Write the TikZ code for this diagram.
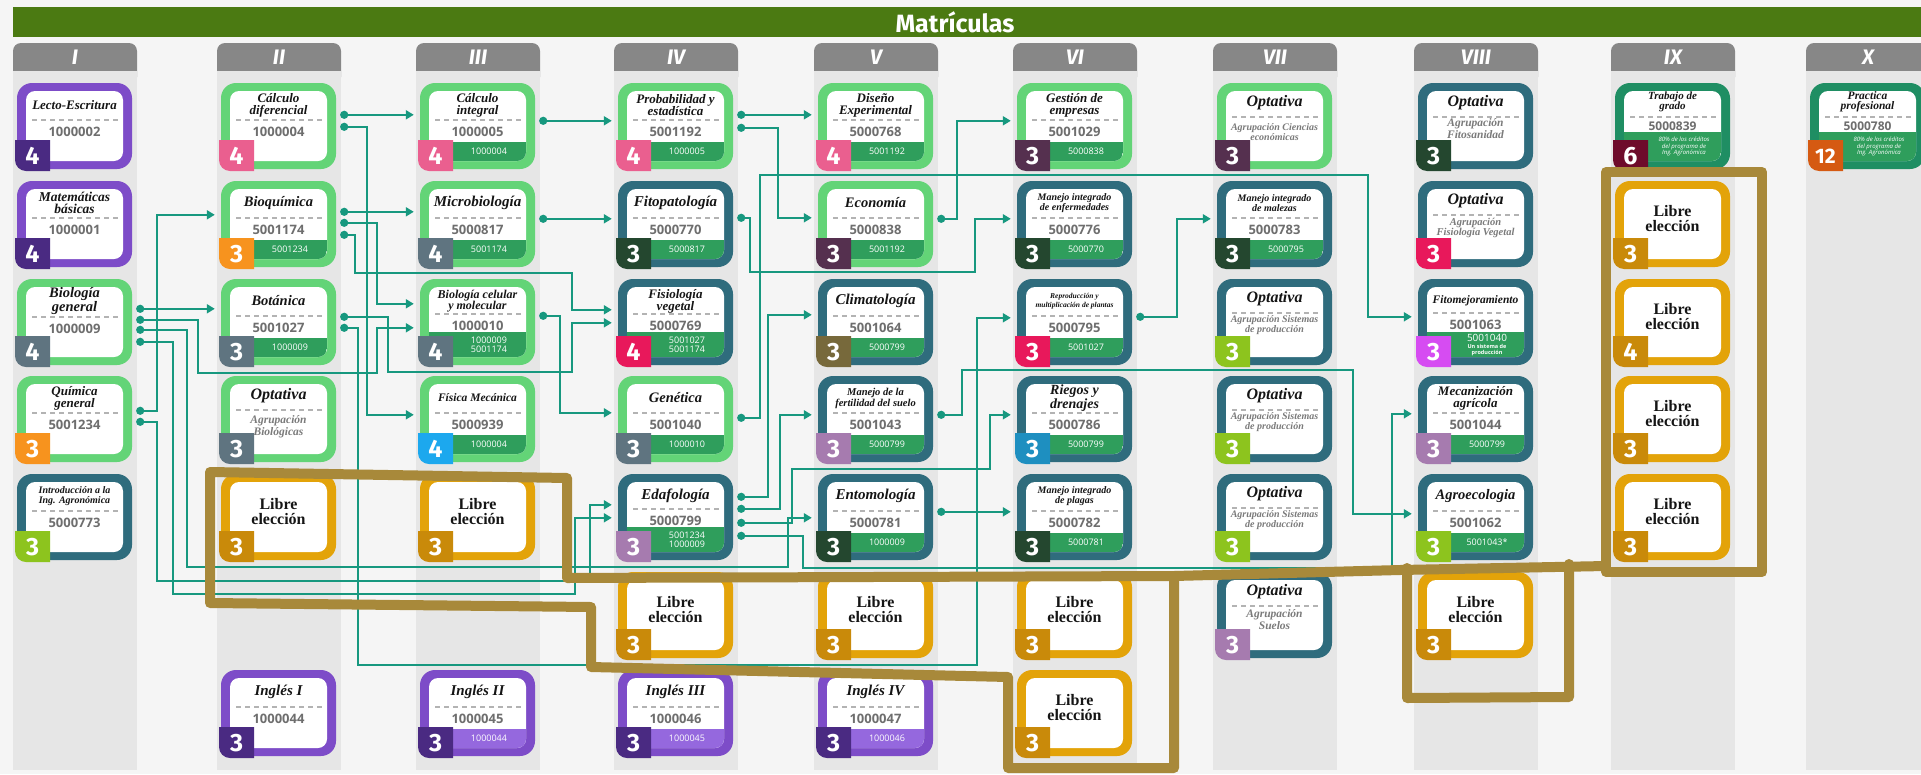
\documentclass[tikz,border=0pt]{standalone}
\usepackage{fontspec}
\setmainfont{Liberation Serif}
\newfontfamily\ttlfont{Liberation Serif}
\newfontfamily\numfont{Fira Sans}
\newfontfamily\codefont{Open Sans}
\usetikzlibrary{arrows.meta}

\definecolor{pagebg}{HTML}{F5F5F5}
\definecolor{colgray}{HTML}{E6E6E6}
\definecolor{hdrgray}{HTML}{878787}
\definecolor{banner}{HTML}{4B7A12}
\definecolor{ink}{HTML}{151515}
\definecolor{codegray}{HTML}{6E6E6E}
\definecolor{dashgray}{HTML}{B3B3B3}
\definecolor{agrgray}{HTML}{7A7A7A}
\definecolor{purpB}{HTML}{7D4CC8}
\definecolor{purpD}{HTML}{4A2A82}
\definecolor{purpP}{HTML}{9568DE}
\definecolor{lgrnB}{HTML}{63D477}
\definecolor{tealB}{HTML}{2F6C7D}
\definecolor{goldB}{HTML}{E3A309}
\definecolor{goldD}{HTML}{C98A0A}
\definecolor{dkgrnB}{HTML}{1F8E63}
\definecolor{prqG}{HTML}{2F9E5C}
\definecolor{slate}{HTML}{5F7480}
\definecolor{orng}{HTML}{F7931E}
\definecolor{lime}{HTML}{8DC41E}
\definecolor{pink}{HTML}{EA5F8F}
\definecolor{sky}{HTML}{1CA8EE}
\definecolor{dgrn}{HTML}{24472F}
\definecolor{rose}{HTML}{E8185B}
\definecolor{mauve}{HTML}{A67BAF}
\definecolor{plum}{HTML}{55304F}
\definecolor{olive}{HTML}{77693B}
\definecolor{rbl}{HTML}{1E8FC0}
\definecolor{magen}{HTML}{D64CF2}
\definecolor{maroonB}{HTML}{6E0B2B}
\definecolor{burnt}{HTML}{D55A12}
\definecolor{link}{HTML}{17987F}
\definecolor{ochre}{HTML}{A8893A}

\newcommand\fs[2]{\fontsize{#1}{#2}\selectfont}

\tikzset{
  cardouter/.style={rectangle, rounded corners=15pt, minimum width=115pt, minimum height=86pt, inner sep=0pt},
  ttl/.style={text=ink, align=center, inner sep=0pt},
  codetxt/.style={font=\codefont\bfseries\fs{13}{14}, text=codegray, inner sep=0pt},
  prqtxt/.style={font=\codefont\fs{9}{9}, text=white, align=center, inner sep=0pt},
  bdgtxt/.style={text=white, inner sep=0pt},
  agr/.style={text=agrgray, align=center, inner sep=0pt},
  libtxt/.style={font=\ttlfont\bfseries\fs{16}{15}, text=ink, align=center, inner sep=0pt},
  dsh/.style={draw=dashgray, line width=1.6pt, dash pattern=on 5pt off 4pt},
  conn/.style={draw=link, line width=2.5pt, {Circle[length=8pt]}-{Triangle[length=8pt,width=9pt]}},
  outline/.style={draw=ochre, line width=10pt, line join=round, line cap=round},
  romtxt/.style={font=\numfont\bfseries\itshape\fs{21}{21}, text=white, inner sep=0pt},
}

% card frame: name, left, top, border colour, badge colour, credits
\newcommand\mkcard[6]{%
  \node[cardouter, fill=#4] (#1) at (#2+57.5,#3+43) {};
  \fill[white, rounded corners=9pt] (#2+9,#3+8) rectangle (#2+106,#3+78);
  \gdef\cn{#1}\gdef\cx{#2}\gdef\cy{#3}\gdef\bc{#5}\gdef\bn{#6}}
% title: vertical offset, size, line skip, text
\newcommand\mkttl[4]{\node[ttl, font=\ttlfont\bfseries\itshape\fs{#2}{#3}] (\cn-t) at (\cx+57.5,\cy+#1) {#4};}
\newcommand\mkagr[4]{\node[agr, font=\ttlfont\bfseries\itshape\fs{#2}{#3}] (\cn-a) at (\cx+57.5,\cy+#1) {#4};}
\newcommand\mkcode[2][37]{%
  \draw[dsh] (\cx+15,\cy+#1) -- (\cx+101,\cy+#1);
  \node[codetxt] (\cn-c) at (\cx+57.5,\cy+#1+12) {#2};}
\newcommand\mkbar[2]{%
  \begin{scope}
    \clip[rounded corners=9pt] (\cx+9,\cy+8) rectangle (\cx+106,\cy+78);
    \fill[#1] (\cx+9,\cy+78-#2) rectangle (\cx+106,\cy+78);
  \end{scope}}
\newcommand\mkprq[3]{\mkbar{#1}{#2}\node[prqtxt] (\cn-p) at (\cx+69,\cy+78-#2/2) {#3};}
\newcommand\mkbadge[1][25]{%
  \fill[\bc] (\cx-2,\cy+57) -- (\cx+33,\cy+57) -- (\cx+33,\cy+88) -- (\cx+9,\cy+88)
    arc[start angle=270,end angle=180,radius=11pt] -- cycle;
  \node[bdgtxt, font=\numfont\bfseries\fs{#1}{#1}] (\cn-n) at (\cx+15.5,\cy+73) {\bn};}
\newcommand\mkcourse[9][37]{\mkcard{#2}{#3}{#4}{#5}{#6}{#7}\mkttl{22}#8\mkcode[#1]{#9}}
\newcommand\mkopt[6]{%
  \mkcard{#1}{#2}{#3}{#4}{#5}{3}\mkttl{20}{16}{16}{Optativa}%
  \draw[dsh] (#2+15,#3+34) -- (#2+101,#3+34);
  \mkagr#6\mkbadge}
\newcommand\mklibre[4]{%
  \mkcard{#1}{#2}{#3}{goldB}{goldD}{#4}%
  \node[libtxt] (#1-t) at (#2+57.5,#3+38) {Libre\\elección};\mkbadge}
% connector ports
\newcommand\ptout[3]{\coordinate (#1) at ([shift={(4,#3)}]#2.north east);}
\newcommand\ptin[3]{\coordinate (#1) at ([shift={(-6,#3)}]#2.north west);}

\begin{document}
\begin{tikzpicture}[x=1pt,y=-1pt]
\useasboundingbox (0,0) rectangle (1921,774);
\clip (0,0) rectangle (1921,774);
\fill[pagebg] (0,0) rectangle (1921,774);

% banner
\fill[banner] (13,7) rectangle (1921,37);
\node[font=\numfont\bfseries\fs{25}{25}, text=white, inner sep=0pt] (banner) at (955,22) {Matrículas};

% semester columns
\foreach \L/\R [count=\i] in {13/I,217/II,416/III,614/IV,814/V,1013/VI,1213/VII,1414/VIII,1611/IX,1806/X}{
  \fill[hdrgray, rounded corners=8pt] (\L,43) rectangle (\L+124,85);
  \fill[colgray] (\L,71) rectangle (\L+124,770);
  \node[romtxt] (sem-\i) at (\L+62,57.5) {\R};
}

% ---------- I
\mkcourse{lecto}{17}{83}{purpB}{purpD}{4}{{13}{12}{Lecto-Escritura}}{1000002}\mkbadge
\mkcourse{mate}{17}{181}{purpB}{purpD}{4}{{13.5}{12.5}{Matemáticas\\básicas}}{1000001}\mkbadge
\mkcourse[38]{bgen}{17}{279}{lgrnB}{slate}{4}{{14.5}{13}{Biología\\general}}{1000009}\mkbadge
\mkcourse{qgen}{17}{376}{lgrnB}{orng}{3}{{13}{12}{Química\\general}}{5001234}\mkbadge
\mkcourse{intro}{17}{474}{tealB}{lime}{3}{{10}{10.5}{Introducción a la\\Ing. Agronómica}}{5000773}\mkbadge

% ---------- II
\mkcourse{cdif}{221}{83}{lgrnB}{pink}{4}{{13}{12}{Cálculo\\diferencial}}{1000004}\mkbadge
\mkcourse{bioq}{221}{181}{lgrnB}{orng}{3}{{14.5}{14}{Bioquímica}}{5001174}\mkprq{prqG}{19}{5001234}\mkbadge
\mkcourse{bot}{221}{279}{lgrnB}{slate}{3}{{14.5}{14}{Botánica}}{5001027}\mkprq{prqG}{19}{1000009}\mkbadge
\mkopt{optbio}{221}{376}{lgrnB}{slate}{{51}{11.5}{12}{Agrupación\\Biológicas}}
\mklibre{libIIa}{221}{474}{3}
\mkcourse{ingI}{221}{670}{purpB}{purpD}{3}{{15}{14}{Inglés I}}{1000044}\mkbadge

% ---------- III
\mkcourse{cint}{420}{83}{lgrnB}{pink}{4}{{13}{12}{Cálculo\\integral}}{1000005}\mkprq{prqG}{19}{1000004}\mkbadge
\mkcourse{micro}{420}{181}{lgrnB}{slate}{4}{{15}{14}{Microbiología}}{5000817}\mkprq{prqG}{19}{5001174}\mkbadge
\mkcourse[35]{bcel}{420}{279}{lgrnB}{slate}{4}{{12}{11.5}{Biología celular\\y molecular}}{1000010}\mkprq{prqG}{25}{1000009\\5001174}\mkbadge
\mkcourse{fis}{420}{376}{lgrnB}{sky}{4}{{11.5}{12}{Física Mecánica}}{5000939}\mkprq{prqG}{19}{1000004}\mkbadge
\mklibre{libIIIa}{420}{474}{3}
\mkcourse{ingII}{420}{670}{purpB}{purpD}{3}{{15}{14}{Inglés II}}{1000045}\mkprq{purpP}{19}{1000044}\mkbadge

% ---------- IV
\mkcourse{prob}{618}{83}{lgrnB}{pink}{4}{{13}{12}{Probabilidad y\\estadística}}{5001192}\mkprq{prqG}{19}{1000005}\mkbadge
\mkcourse{fito}{618}{181}{tealB}{dgrn}{3}{{15}{14}{Fitopatología}}{5000770}\mkprq{prqG}{19}{5000817}\mkbadge
\mkcourse[35]{fisv}{618}{279}{tealB}{rose}{4}{{13}{12}{Fisiología\\vegetal}}{5000769}\mkprq{prqG}{25}{5001027\\5001174}\mkbadge
\mkcourse{gen}{618}{376}{lgrnB}{slate}{3}{{14.5}{14}{Genética}}{5001040}\mkprq{prqG}{19}{1000010}\mkbadge
\mkcourse[35]{edaf}{618}{474}{tealB}{mauve}{3}{{15}{14}{Edafología}}{5000799}\mkprq{prqG}{25}{5001234\\1000009}\mkbadge
\mklibre{libIV}{618}{572}{3}
\mkcourse{ingIII}{618}{670}{purpB}{purpD}{3}{{15}{14}{Inglés III}}{1000046}\mkprq{purpP}{19}{1000045}\mkbadge

% ---------- V
\mkcourse{dis}{818}{83}{lgrnB}{pink}{4}{{13}{12}{Diseño\\Experimental}}{5000768}\mkprq{prqG}{19}{5001192}\mkbadge
\mkcourse{eco}{818}{181}{lgrnB}{plum}{3}{{14.5}{14}{Economía}}{5000838}\mkprq{prqG}{19}{5001192}\mkbadge
\mkcourse{clim}{818}{279}{tealB}{olive}{3}{{15}{14}{Climatología}}{5001064}\mkprq{prqG}{19}{5000799}\mkbadge
\mkcourse{mfer}{818}{376}{tealB}{mauve}{3}{{10.5}{11}{Manejo de la\\fertilidad del suelo}}{5001043}\mkprq{prqG}{19}{5000799}\mkbadge
\mkcourse{ento}{818}{474}{tealB}{dgrn}{3}{{15}{14}{Entomología}}{5000781}\mkprq{prqG}{19}{1000009}\mkbadge
\mklibre{libV}{818}{572}{3}
\mkcourse{ingIV}{818}{670}{purpB}{purpD}{3}{{15}{14}{Inglés IV}}{1000047}\mkprq{purpP}{19}{1000046}\mkbadge

% ---------- VI
\mkcourse{gest}{1017}{83}{lgrnB}{plum}{3}{{13}{12}{Gestión de\\empresas}}{5001029}\mkprq{prqG}{19}{5000838}\mkbadge
\mkcourse{menf}{1017}{181}{tealB}{dgrn}{3}{{10}{10.5}{Manejo integrado\\de enfermedades}}{5000776}\mkprq{prqG}{19}{5000770}\mkbadge
\mkcourse{repr}{1017}{279}{tealB}{rose}{3}{{7.5}{9}{Reproducción y\\multiplicación de plantas}}{5000795}\mkprq{prqG}{19}{5001027}\mkbadge
\mkcourse{rieg}{1017}{376}{tealB}{rbl}{3}{{14}{12.5}{Riegos y\\drenajes}}{5000786}\mkprq{prqG}{19}{5000799}\mkbadge
\mkcourse{mpla}{1017}{474}{tealB}{dgrn}{3}{{10}{10.5}{Manejo integrado\\de plagas}}{5000782}\mkprq{prqG}{19}{5000781}\mkbadge
\mklibre{libVIa}{1017}{572}{3}
\mklibre{libVIb}{1017}{670}{3}

% ---------- VII
\mkopt{opteco}{1217}{83}{lgrnB}{plum}{{49}{10}{9}{Agrupación Ciencias\\económicas}}
\mkcourse{mmal}{1217}{181}{tealB}{dgrn}{3}{{10}{10.5}{Manejo integrado\\de malezas}}{5000783}\mkprq{prqG}{19}{5000795}\mkbadge
\mkopt{optsisA}{1217}{279}{tealB}{lime}{{46}{10}{9.5}{Agrupación Sistemas\\de producción}}
\mkopt{optsisB}{1217}{376}{tealB}{lime}{{46}{10}{9.5}{Agrupación Sistemas\\de producción}}
\mkopt{optsisC}{1217}{474}{tealB}{lime}{{46}{10}{9.5}{Agrupación Sistemas\\de producción}}
\mkopt{optsue}{1217}{572}{tealB}{mauve}{{48}{11.5}{12}{Agrupación\\Suelos}}

% ---------- VIII
\mkopt{optfit}{1418}{83}{tealB}{dgrn}{{46}{11.5}{12}{Agrupación\\Fitosanidad}}
\mkopt{optfv}{1418}{181}{tealB}{rose}{{47}{10.5}{9.5}{Agrupación\\Fisiología Vegetal}}
\mkcourse[34]{fitm}{1418}{279}{tealB}{magen}{3}{{11.5}{12}{Fitomejoramiento}}{5001063}\mkbar{prqG}{25}
\node[prqtxt, font=\codefont\fs{10}{10}] (fitm-p) at (\cx+69,\cy+59) {5001040};
\node[prqtxt, font=\codefont\bfseries\fs{5.5}{6}] (fitm-q) at (\cx+69,\cy+71) {Un sistema de\\producción};
\mkbadge
\mkcourse{meca}{1418}{376}{tealB}{mauve}{3}{{13}{12}{Mecanización\\agrícola}}{5001044}\mkprq{prqG}{19}{5000799}\mkbadge
\mkcourse{agro}{1418}{474}{tealB}{lime}{3}{{14.5}{14}{Agroecologia}}{5001062}\mkprq{prqG}{19}{5001043*}\mkbadge
\mklibre{libVIII}{1418}{572}{3}

% ---------- IX
\mkcard{tg}{1615}{83}{dkgrnB}{maroonB}{6}
\mkttl{19}{11}{10}{Trabajo de\\grado}
\draw[dsh] (\cx+15,\cy+34) -- (\cx+101,\cy+34);
\node[codetxt, font=\codefont\bfseries\fs{12}{12}] (tg-c) at (\cx+57.5,\cy+43) {5000839};
\mkbar{prqG}{29}
\node[prqtxt, font=\codefont\itshape\fs{6}{6.6}] (tg-p) at (\cx+69,\cy+63.5) {80\% de los créditos\\del programa de\\Ing. Agronómica};
\mkbadge
\mklibre{libIXa}{1615}{181}{3}
\mklibre{libIXb}{1615}{279}{4}
\mklibre{libIXc}{1615}{376}{3}
\mklibre{libIXd}{1615}{474}{3}

% ---------- X
\mkcard{pp}{1810}{83}{dkgrnB}{burnt}{12}
\mkttl{19}{11.5}{10}{Practica\\profesional}
\draw[dsh] (\cx+15,\cy+34) -- (\cx+101,\cy+34);
\node[codetxt, font=\codefont\bfseries\fs{12}{12}] (pp-c) at (\cx+57.5,\cy+43) {5000780};
\mkbar{prqG}{29}
\node[prqtxt, font=\codefont\itshape\fs{6}{6.6}] (pp-p) at (\cx+69,\cy+63.5) {80\% de los créditos\\del programa de\\Ing. Agronómica};
\mkbadge[21]

% ---------- prerequisite links
\ptout{o1}{cdif}{32}\ptin{i1}{cint}{32}
\ptout{o2}{cdif}{44}\ptin{i2}{fis}{39}
\ptout{o3}{bioq}{31}\ptin{i3}{micro}{31}
\ptout{o4}{bioq}{42}\ptin{i4}{bcel}{25}
\ptout{o5}{bioq}{54}\ptin{i5}{fisv}{31}
\ptout{o6}{qgen}{35}\ptin{i6}{bioq}{34}
\ptout{o7}{qgen}{46}\ptin{i7}{edaf}{31}
\ptout{o8}{bgen}{30}\ptin{i8}{bot}{30}
\ptout{o9}{bgen}{41}\ptin{i9}{bcel}{49}
\ptout{o10}{bgen}{51}\ptin{i10}{ento}{44}
\ptout{o11}{bgen}{63}\ptin{i11}{edaf}{44}
\ptout{o12}{bot}{38}\ptin{i12}{fisv}{44}
\ptout{o13}{bot}{49}\ptin{i13}{repr}{39}
\ptout{o14}{cint}{38}\ptin{i14}{prob}{38}
\ptout{o15}{micro}{38}\ptin{i15}{fito}{38}
\ptout{o16}{bcel}{37}\ptin{i16}{gen}{37}
\ptout{o17}{prob}{32}\ptin{i17}{dis}{32}
\ptout{o18}{prob}{45}\ptin{i18}{eco}{37}
\ptout{o19}{fito}{37}\ptin{i19}{menf}{38}
\ptout{o20}{gen}{42}\ptin{i20}{fitm}{38}
\ptout{o21}{edaf}{23}\ptin{i21}{clim}{36}
\ptout{o22}{edaf}{35}\ptin{i22}{mfer}{39}
\ptout{o23}{edaf}{49}\ptin{i23}{rieg}{39}
\ptout{o24}{edaf}{62}\ptin{i24}{meca}{38}
\ptout{o25}{eco}{38}\ptin{i25}{gest}{38}
\ptout{o26}{mfer}{39}\ptin{i26}{agro}{40}
\ptout{o27}{ento}{38}\ptin{i27}{mpla}{38}
\ptout{o28}{repr}{38}\ptin{i28}{mmal}{38}

\draw[conn] (o1) -- (i1);
\draw[conn] (o2) -| (367,0 |- i2) -- (i2);
\draw[conn] (o3) -- (i3);
\draw[conn] (o4) -| (377,0 |- i4) -- (i4);
\draw[conn] (o5) -| (355,273) -| (572,0 |- i5) -- (i5);
\draw[conn] (o6) -| (157,0 |- i6) -- (i6);
\draw[conn] (o7) -| (157,581) -| (590,0 |- i7) -- (i7);
\draw[conn] (o8) -- (i8);
\draw[conn] (o9) -| (198,373) -| (377,0 |- i9) -- (i9);
\draw[conn] (o10) -| (187,567) -| (788,0 |- i10) -- (i10);
\draw[conn] (o11) -| (173,594) -| (575,0 |- i11) -- (i11);
\draw[conn] (o12) -| (388,372) -| (572,0 |- i12) -- (i12);
\draw[conn] (o13) -| (358,665) -| (977,0 |- i13) -- (i13);
\draw[conn] (o14) -- (i14);
\draw[conn] (o15) -- (i15);
\draw[conn] (o16) -| (560,0 |- i16) -- (i16);
\draw[conn] (o17) -- (i17);
\draw[conn] (o18) -| (778,0 |- i18) -- (i18);
\draw[conn] (o19) -| (750,272) -| (975,0 |- i19) -- (i19);
\draw[conn] (o20) -| (760,175) -| (1368,0 |- i20) -- (i20);
\draw[conn] (o21) -| (768,0 |- i21) -- (i21);
\draw[conn] (o22) -| (780,0 |- i22) -- (i22);
\draw[conn] (o23) -| (792,469) -| (990,0 |- i23) -- (i23);
\draw[conn] (o24) -| (803,568) -| (1392,0 |- i24) -- (i24);
\draw[conn] (o25) -| (957,0 |- i25) -- (i25);
\draw[conn] (o26) -| (962,370) -| (1353,0 |- i26) -- (i26);
\draw[conn] (o27) -- (i27);
\draw[conn] (o28) -| (1177,0 |- i28) -- (i28);

% ---------- hand-drawn groupings of free-choice courses
\draw[outline] (210,472) -- (567,478) -- (567,578) -- (1174,576) -- (1174,768) -- (1008,768)
  -- (1008,677) -- (591,667) -- (591,607) -- (210,603) -- cycle;
\draw[outline] (1174,576) -- (1400,570) -- (1606,566);
\draw[outline] (1407,568) -- (1407,698) -- (1569,697) -- (1569,564);
\draw[outline] (1606,172) -- (1762,172) -- (1762,572) -- (1606,572) -- cycle;
\end{tikzpicture}
\end{document}
